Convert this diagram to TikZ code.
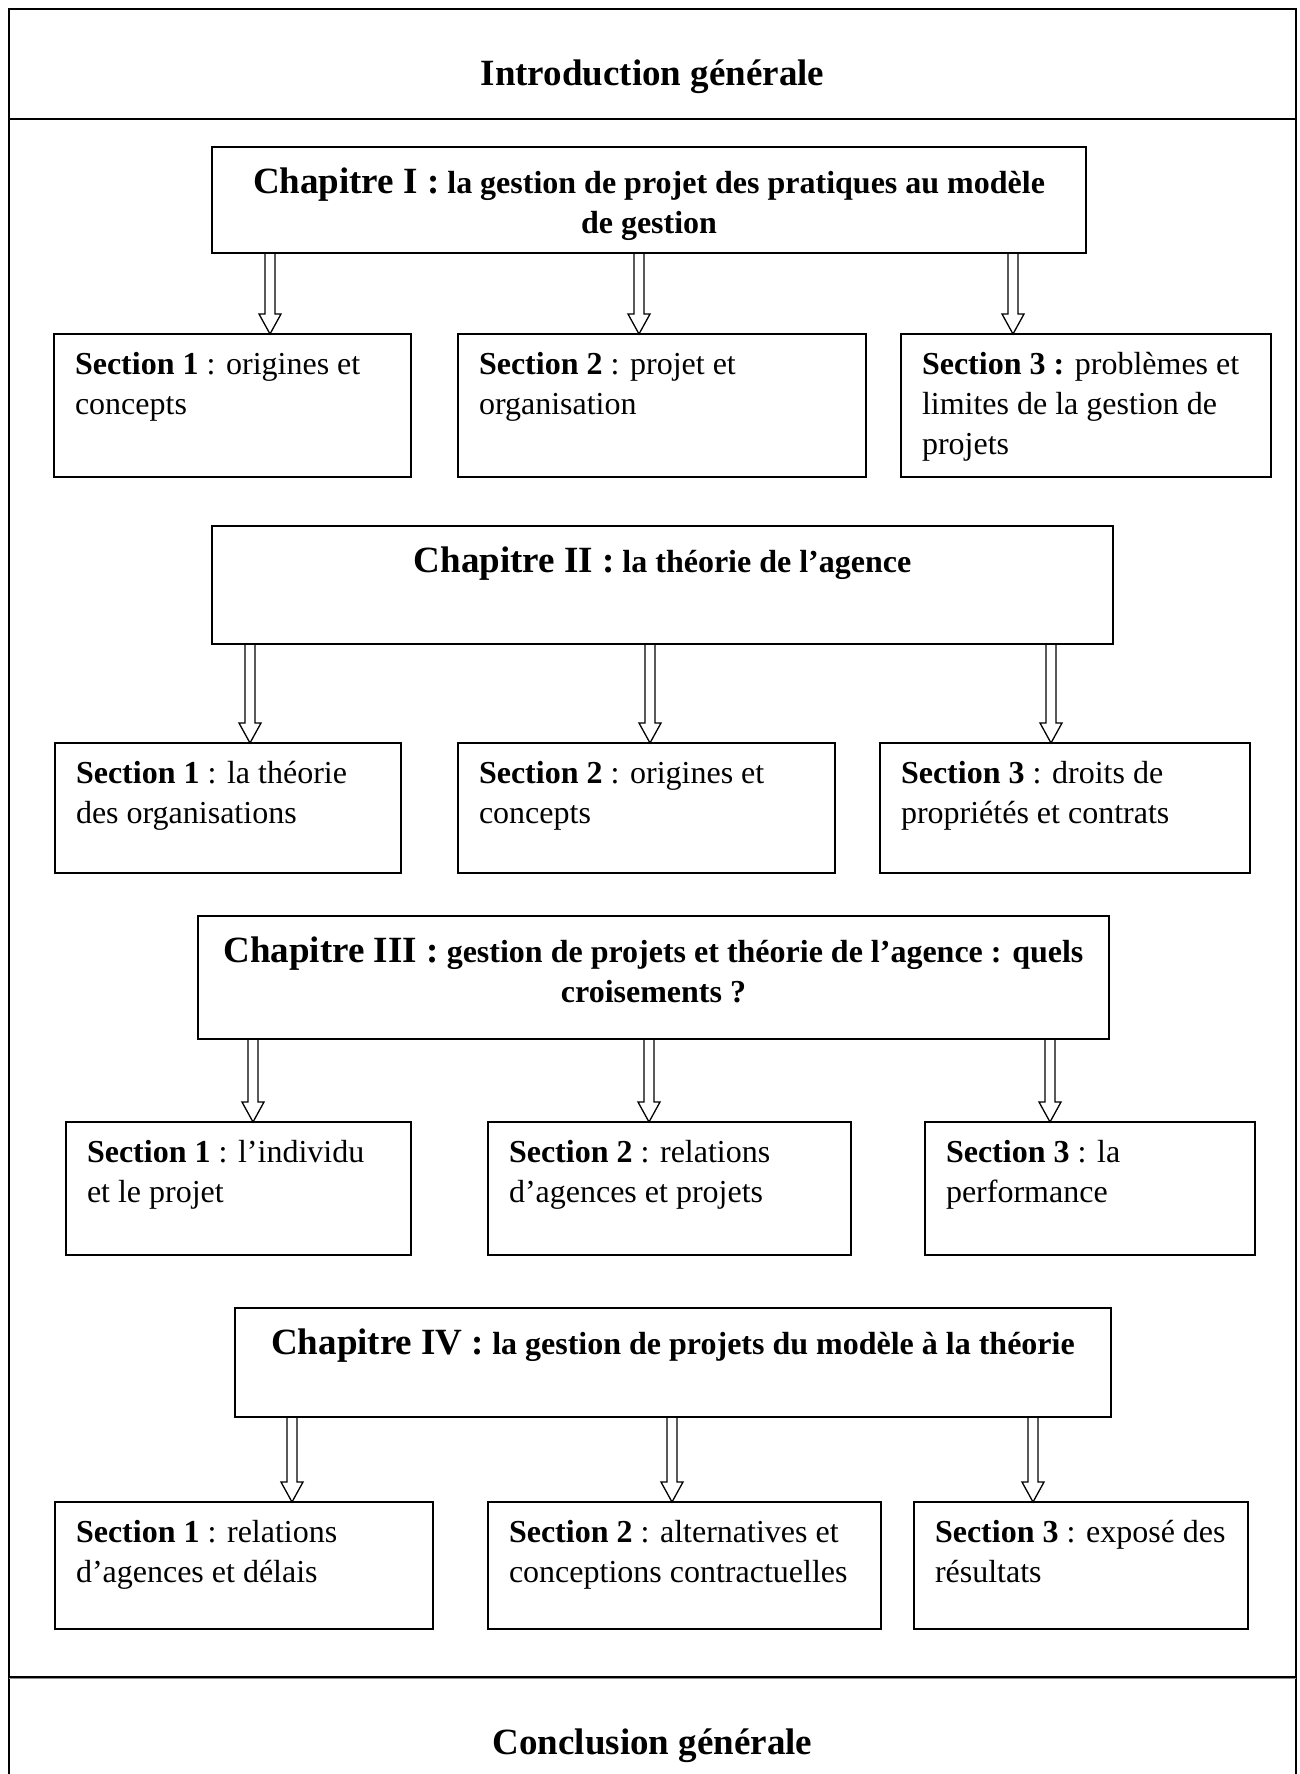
\documentclass[tikz,border=0pt]{standalone}
\usepackage{fontspec}
\setmainfont{Liberation Serif}
\usetikzlibrary{calc}

% large size used for the chapter labels and the two end boxes
\newcommand\chapfont{\fontsize{37}{41}\selectfont}

% section box: name, left, top, right, bottom, text
\newcommand\secnode[6]{%
  \pgfmathsetmacro\bw{#4-#2}%
  \pgfmathsetmacro\bh{#5-#3}%
  \node[plainbox] (#1) at (#2,#3)
    {\parbox[c][\bh pt][t]{\bw pt}{\raggedright\leftskip=21pt
      \fontsize{32}{40}\selectfont\rule{0pt}{40pt}#6}};%
}

% chapter box: name, left, top, right, bottom, text
\newcommand\chapnode[6]{%
  \pgfmathsetmacro\bw{#4-#2}%
  \pgfmathsetmacro\bh{#5-#3}%
  \node[plainbox] (#1) at (#2,#3)
    {\parbox[c][\bh pt][t]{\bw pt}{\centering\bfseries
      \fontsize{32}{40}\selectfont\rule{0pt}{46pt}#6}};%
}

% hollow block arrow: x position, source node, target node
\newcommand\hollow[3]{%
  \draw[arrowline] let \p1=(#1,0), \p2=(#2.south), \p3=(#3.north) in
    (\x1-5pt,\y2) -- (\x1-5pt,\y3+20pt) -- (\x1-11pt,\y3+20pt) -- (\x1,\y3)
    -- (\x1+11pt,\y3+20pt) -- (\x1+5pt,\y3+20pt) -- (\x1+5pt,\y2);%
}

\begin{document}
\begin{tikzpicture}[x=1pt,y=-1pt,
  frame/.style={line width=1.8pt},
  plainbox/.style={draw, line width=1.8pt, inner sep=0pt, outer sep=0pt,
    anchor=north west},
  arrowline/.style={line width=1.3pt, line join=miter},
  endtitle/.style={font=\bfseries\chapfont, anchor=base}]

\useasboundingbox (0,0) rectangle (1300,1774);
\fill[white] (0,0) rectangle (1300,1774);

% outer frame and separators
\draw[frame] (9,1774) -- (9,9) -- (1296,9) -- (1296,1774);
\draw[frame] (9,119) -- (1296,119);
\draw[line width=2pt] (9,1676.5) -- (1296,1676.5);
\draw[line width=1.5pt, black!45] (9,1678.5) -- (1296,1678.5);

\node[endtitle] (intro) at (652.5,86) {Introduction générale};
\node[endtitle] (concl) at (652.5,1754) {Conclusion générale};

% chapter I
\chapnode{c1}{212}{147}{1086}{253}{{\chapfont Chapitre I :} la gestion de projet des pratiques au modèle\\de gestion}
\secnode{s11}{54}{334}{411}{477}{\textbf{Section 1} : origines et\\concepts}
\secnode{s12}{458}{334}{866}{477}{\textbf{Section 2} : projet et\\organisation}
\secnode{s13}{901}{334}{1271}{477}{\textbf{Section 3 :} problèmes et\\limites de la gestion de\\projets}
\hollow{270}{c1}{s11}
\hollow{639}{c1}{s12}
\hollow{1013}{c1}{s13}

% chapter II
\chapnode{c2}{212}{526}{1113}{644}{{\chapfont Chapitre II :} la théorie de l’agence}
\secnode{s21}{55}{743}{401}{873}{\textbf{Section 1} : la théorie\\des organisations}
\secnode{s22}{458}{743}{835}{873}{\textbf{Section 2} : origines et\\concepts}
\secnode{s23}{880}{743}{1250}{873}{\textbf{Section 3} : droits de\\propriétés et contrats}
\hollow{250}{c2}{s21}
\hollow{650}{c2}{s22}
\hollow{1051}{c2}{s23}

% chapter III
\chapnode{c3}{198}{916}{1109}{1039}{{\chapfont Chapitre III :} gestion de projets et théorie de l’agence : quels\\croisements ?}
\secnode{s31}{66}{1122}{411}{1255}{\textbf{Section 1} : l’individu\\et le projet}
\secnode{s32}{488}{1122}{851}{1255}{\textbf{Section 2} : relations\\d’agences et projets}
\secnode{s33}{925}{1122}{1255}{1255}{\textbf{Section 3} : la\\performance}
\hollow{253}{c3}{s31}
\hollow{649}{c3}{s32}
\hollow{1050}{c3}{s33}

% chapter IV
\chapnode{c4}{235}{1308}{1111}{1417}{{\chapfont Chapitre IV :} la gestion de projets du modèle à la théorie}
\secnode{s41}{55}{1502}{433}{1629}{\textbf{Section 1} : relations\\d’agences et délais}
\secnode{s42}{488}{1502}{881}{1629}{\textbf{Section 2} : alternatives et\\conceptions contractuelles}
\secnode{s43}{914}{1502}{1248}{1629}{\textbf{Section 3} : exposé des\\résultats}
\hollow{292}{c4}{s41}
\hollow{672}{c4}{s42}
\hollow{1033}{c4}{s43}

\end{tikzpicture}
\end{document}
